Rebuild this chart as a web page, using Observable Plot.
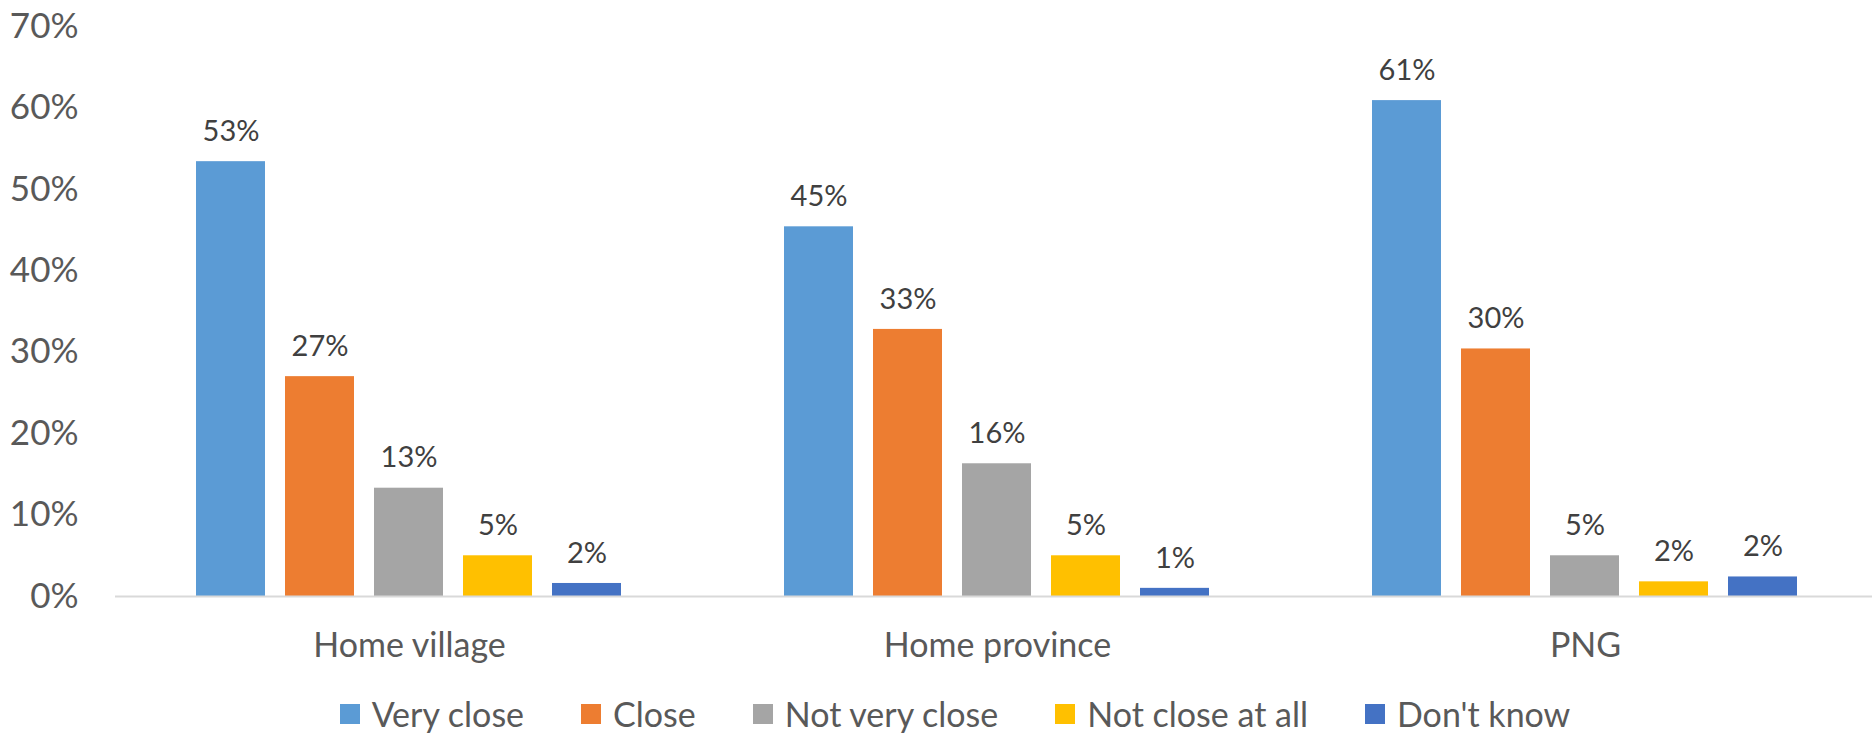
<!DOCTYPE html>
<html>
<head>
<meta charset="utf-8">
<script src="https://cdn.jsdelivr.net/npm/d3@7"></script>
<script src="https://cdn.jsdelivr.net/npm/@observablehq/plot@0.6"></script>
<style>
  html, body { margin: 0; padding: 0; background: #ffffff; }
  #chart { width: 1872px; }
  .legend {
    display: flex; justify-content: center; align-items: center;
    gap: 57px; height: 48px; line-height: 48px;
    font-family: Lato, sans-serif; font-size: 34px; color: #595959;
    margin-top: 0; padding-left: 38px; box-sizing: border-box; width: 1872px;
  }
  .legend .item { display: flex; align-items: center; white-space: nowrap; }
  .legend .sw { width: 20px; height: 20px; margin-right: 12px; display: inline-block; }
</style>
</head>
<body>
<div id="chart"></div>
<script>
const groups = ["Home village", "Home province", "PNG"];
const series = ["Very close", "Close", "Not very close", "Not close at all", "Don't know"];
const colors = ["#5B9BD5", "#ED7D31", "#A5A5A5", "#FFC000", "#4472C4"];
const veryClose = [53.4, 45.4, 60.9];
const close = [27.0, 32.8, 30.4];
const notVeryClose = [13.3, 16.3, 5.0];
const notCloseAtAll = [5.0, 5.0, 1.8];
const dontKnow = [1.6, 1.0, 2.4];
const yTicks = [0, 10, 20, 30, 40, 50, 60, 70];

const seriesValues = [veryClose, close, notVeryClose, notCloseAtAll, dontKnow];
const data = [];
groups.forEach((g, gi) => {
  series.forEach((s, si) => {
    data.push({group: g, series: s, value: seriesValues[si][gi]});
  });
});

const chart = Plot.plot({
  width: 1872,
  height: 690,
  marginLeft: 114,
  marginRight: -8,
  marginTop: 26,
  marginBottom: 94,
  style: {fontFamily: "Lato, sans-serif", fontSize: "34px", color: "#595959", background: "#ffffff"},
  fx: {domain: groups, padding: 0, label: null},
  x: {domain: series, paddingInner: 0.22, paddingOuter: 0.88, axis: null},
  y: {domain: [0, 70], label: null},
  color: {domain: series, range: colors},
  marks: [
    Plot.axisY({ticks: yTicks, tickFormat: d => d + "%", tickSize: 0, tickPadding: 37, label: null, fontSize: 35}),
    Plot.axisFx({anchor: "bottom", tickSize: 0, tickPadding: 36, label: null, fontSize: 34}),
    Plot.barY(data, {fx: "group", x: "series", y: "value", fill: "series"}),
    Plot.ruleY([0], {stroke: "#D9D9D9", strokeWidth: 2}),
    Plot.text(data, {fx: "group", x: "series", y: "value", text: d => Math.round(d.value) + "%", dy: -30, fill: "#404040", fontSize: 29})
  ]
});
document.getElementById("chart").appendChild(chart);

const legend = document.createElement("div");
legend.className = "legend";
series.forEach((s, i) => {
  const item = document.createElement("div");
  item.className = "item";
  const sw = document.createElement("span");
  sw.className = "sw";
  sw.style.background = colors[i];
  const label = document.createElement("span");
  label.textContent = s;
  item.appendChild(sw);
  item.appendChild(label);
  legend.appendChild(item);
});
document.getElementById("chart").appendChild(legend);
</script>
</body>
</html>
